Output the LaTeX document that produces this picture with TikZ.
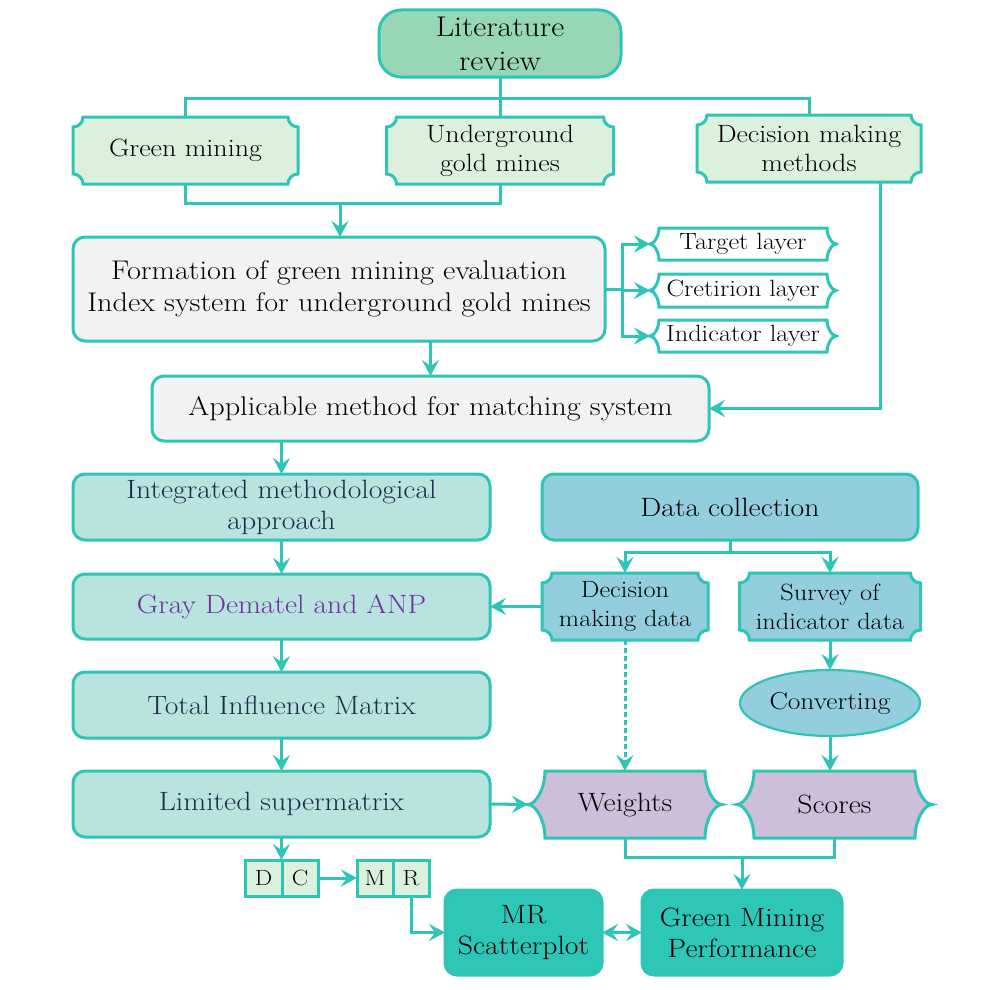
\documentclass[tikz,border=0pt]{standalone}
\usepackage{fontspec}
\setmainfont{Latin Modern Roman}[FakeStretch=1.12]
\usetikzlibrary{arrows.meta,backgrounds,shapes.geometric,calc}
\definecolor{tealL}{HTML}{2EC4B6}
\definecolor{litF}{HTML}{97D7B5}
\definecolor{lgF}{HTML}{DCF0DE}
\definecolor{grF}{HTML}{F2F2F2}
\definecolor{intF}{HTML}{B9E3DF}
\definecolor{blF}{HTML}{92CEDD}
\definecolor{puF}{HTML}{CDBFDA}
\definecolor{tkF}{HTML}{2EC6B6}
\definecolor{navyT}{HTML}{1C2B4A}
\definecolor{purT}{HTML}{7030A0}
\tikzset{
 ln/.style={draw=tealL, line width=3pt},
 tip/.tip={Stealth[length=16pt,width=17pt,inset=6pt]},
 arr/.style={ln, -tip},
 darr/.style={ln, tip-tip},
 bx/.style={align=center, inner sep=1pt, outer sep=0pt, text=black, font=\fontsize{26.5}{31}\selectfont},
 rbox/.style={bx, draw=tealL, line width=3pt, rounded corners=12pt},
 plain/.style={bx, draw=none},
 topf/.style={font=\fontsize{25}{29}\selectfont},
 midf/.style={font=\fontsize{23.5}{29}\selectfont},
 sm/.style={font=\fontsize{23.5}{26}\selectfont},
 dcf/.style={font=\fontsize{22}{24}\selectfont},
}
\newcommand{\scal}[2]{%
 \begin{scope}[on background layer]
 \draw[ln, fill=#2] ([xshift=10pt]#1.north west) -- ([xshift=-10pt]#1.north east)
  arc[start angle=180,end angle=270,radius=10pt] -- ([yshift=10pt]#1.south east)
  arc[start angle=90,end angle=180,radius=10pt] -- ([xshift=10pt]#1.south west)
  arc[start angle=0,end angle=90,radius=10pt] -- ([yshift=-10pt]#1.north west)
  arc[start angle=270,end angle=360,radius=10pt] -- cycle;
 \end{scope}}
% node, fill, d, qh
\newcommand{\brc}[4]{%
 \begin{scope}[on background layer]
 \draw[ln, fill=#2] ([xshift=#3]#1.north west) -- ([xshift=-#3]#1.north east)
  .. controls ([xshift=-#3,yshift=-#4]#1.north east) and ([xshift=-0.45*#3]#1.east) .. (#1.east)
  .. controls ([xshift=-0.45*#3]#1.east) and ([xshift=-#3,yshift=#4]#1.south east) .. ([xshift=-#3]#1.south east)
  -- ([xshift=#3]#1.south west)
  .. controls ([xshift=#3,yshift=#4]#1.south west) and ([xshift=0.45*#3]#1.west) .. (#1.west)
  .. controls ([xshift=0.45*#3]#1.west) and ([xshift=#3,yshift=-#4]#1.north west) .. ([xshift=#3]#1.north west)
  -- cycle;
 \end{scope}}
\begin{document}
\begin{tikzpicture}[x=1pt,y=-1pt]
\useasboundingbox (0,0) rectangle (990,990);
% top
\node[rbox, fill=litF, rounded corners=22pt, minimum width=242pt, minimum height=67pt, font=\fontsize{28.5}{34}\selectfont] (lit) at (500,43.5) {Literature\\review};
\node[plain, topf, minimum width=225pt, minimum height=67pt] (gm) at (185.5,150.5) {Green mining};
\node[plain, topf, minimum width=227pt, minimum height=67pt] (ug) at (500,150.5) {Underground\\gold mines};
\node[plain, topf, minimum width=224pt, minimum height=67pt] (dm) at (809,148.5) {Decision making\\methods};
\scal{gm}{lgF}\scal{ug}{lgF}\scal{dm}{lgF}
\node[rbox, fill=grF, minimum width=532pt, minimum height=104pt, font=\fontsize{27}{32}\selectfont] (form) at (339,289) {Formation of green mining evaluation\\Index system for underground gold mines};
\node[plain, sm, minimum width=186pt, minimum height=32pt] (tl) at (743,244) {Target layer};
\node[plain, sm, minimum width=186pt, minimum height=33pt] (cl) at (743,290.5) {Cretirion layer};
\node[plain, sm, minimum width=186pt, minimum height=32pt] (il) at (743,336) {Indicator layer};
\brc{tl}{white}{9pt}{8pt}\brc{cl}{white}{9pt}{8pt}\brc{il}{white}{9pt}{8pt}
\node[rbox, fill=grF, minimum width=557pt, minimum height=65pt, font=\fontsize{27}{31}\selectfont] (app) at (430.5,408.5) {Applicable method for matching system};
% middle
\node[rbox, fill=intF, text=navyT, minimum width=417pt, minimum height=66pt] (int) at (281.5,507) {Integrated methodological\\approach};
\node[rbox, fill=blF, minimum width=376pt, minimum height=66pt] (dc) at (730,507) {Data collection};
\node[plain, midf, minimum width=166pt, minimum height=67pt] (dmd) at (625,606.5) {Decision\\making data};
\node[plain, midf, minimum width=181pt, minimum height=67pt] (sid) at (830,606.5) {Survey of\\indicator data};
\scal{dmd}{blF}\scal{sid}{blF}
\node[rbox, fill=intF, text=purT, minimum width=417pt, minimum height=65pt] (gd) at (281.5,606.5) {Gray Dematel and ANP};
\node[rbox, fill=intF, text=navyT, minimum width=417pt, minimum height=66pt] (tim) at (281.5,705) {Total Influence Matrix};
\node[rbox, fill=intF, text=navyT, minimum width=417pt, minimum height=66pt] (ls) at (281.5,804) {Limited supermatrix};
\node[bx, ellipse, draw=tealL, line width=2.2pt, fill=blF, font=\fontsize{24.5}{29}\selectfont, minimum width=180pt, minimum height=66pt, inner sep=0pt] (conv) at (830,703) {Converting};
\node[plain, minimum width=194pt, minimum height=67pt] (w) at (625,804.5) {Weights};
\node[plain, minimum width=195pt, minimum height=67pt] (sc) at (834.5,804.5) {Scores};
\brc{w}{puF}{17pt}{18pt}\brc{sc}{puF}{17pt}{18pt}
% bottom
\node[bx, dcf, draw=tealL, line width=3pt, fill=lgF, minimum width=37pt, minimum height=36pt] (D) at (263.5,878) {D};
\node[bx, dcf, draw=tealL, line width=3pt, fill=lgF, minimum width=36pt, minimum height=36pt] (C) at (300,878) {C};
\node[bx, dcf, draw=tealL, line width=3pt, fill=lgF, minimum width=36pt, minimum height=36pt] (M) at (375,878) {M};
\node[bx, dcf, draw=tealL, line width=3pt, fill=lgF, minimum width=36pt, minimum height=36pt] (R) at (411,878) {R};
\node[rbox, fill=tkF, minimum width=157pt, minimum height=85pt] (mr) at (523.5,932.5) {MR\\Scatterplot};
\node[rbox, fill=tkF, minimum width=200pt, minimum height=85pt] (gmp) at (742,932.5) {Green Mining\\Performance};
% connectors
\coordinate (top) at (500,98);
\draw[ln] (lit.south) -- (ug.north);
\draw[ln] (gm.north) |- (top) -| (dm.north);
\coordinate (b1) at (340,203);
\draw[ln] (gm.south) |- (b1) -| (ug.south);
\draw[arr] (b1) -- (b1 |- form.north);
\draw[arr] ([xshift=71pt]dm.south) |- (app.east);
\coordinate (fj) at (622,289);
\draw[ln] (form.east) -- (fj);
\draw[arr] (fj) |- (tl.west);
\draw[arr] (fj) |- (il.west);
\draw[arr] (fj) |- (cl.west);
\draw[arr] (app.north |- form.south) -- (app.north);
\draw[arr] (int.north |- app.south) -- (int.north);
\draw[arr] (int) -- (gd);
\draw[arr] (gd) -- (tim);
\draw[arr] (tim) -- (ls);
\coordinate (dj) at (730,552);
\draw[ln] (dc.south) -- (dj);
\draw[arr] (dj) -| (dmd.north);
\draw[arr] (dj) -| (sid.north);
\draw[arr] (dmd.west) -- (gd.east);
\draw[arr, dashed, dash pattern=on 5pt off 3pt] (dmd.south) -- (w.north);
\draw[arr] (sid.south) -- (conv.north);
\draw[arr] (conv.south) -- (conv.south |- sc.north);
\draw[arr] (ls.east) -- (w.west);
\coordinate (wj) at (742,857);
\draw[ln] (w.south) |- (wj) -| (sc.south);
\draw[arr] (wj) -- (gmp.north);
\draw[arr] (ls.south) -- (ls.south |- C.north);
\draw[arr] (C.east) -- (M.west);
\draw[arr] (R.south) |- (mr.west);
\draw[darr] (mr.east) -- (gmp.west);
\end{tikzpicture}
\end{document}
